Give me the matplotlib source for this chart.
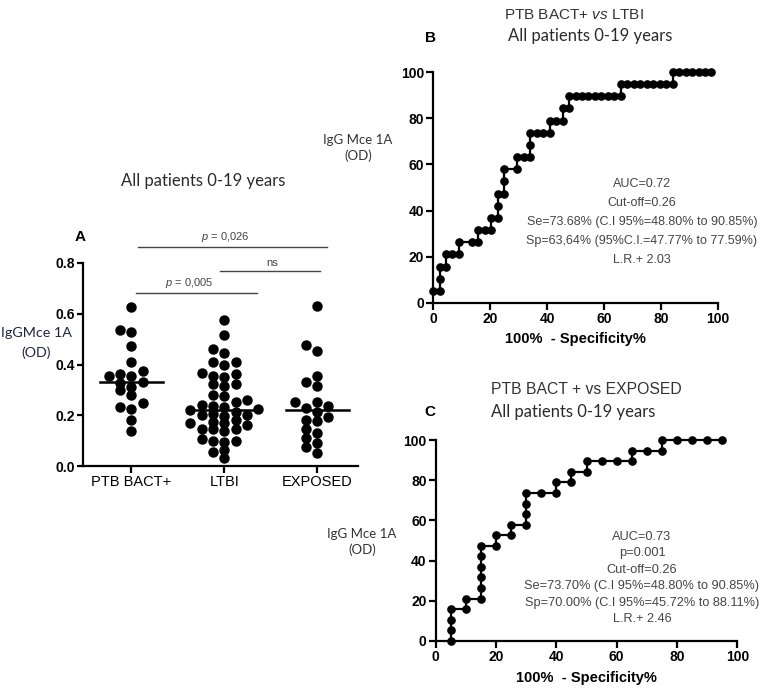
import numpy as np
import matplotlib
matplotlib.use('Agg')
import matplotlib.pyplot as plt

plt.rcParams['font.family'] = ['Liberation Sans', 'DejaVu Sans']
plt.rcParams['mathtext.fontset'] = 'custom'
plt.rcParams['mathtext.rm'] = 'Liberation Sans'
plt.rcParams['mathtext.it'] = 'Liberation Sans:italic'

# ---------------- data ----------------
groups = ['PTB BACT+', 'LTBI', 'EXPOSED']
ptb_od = [0.628, 0.530, 0.534, 0.474, 0.409, 0.376, 0.363, 0.355, 0.353, 0.330,
          0.329, 0.313, 0.300, 0.280, 0.247, 0.232, 0.225, 0.182, 0.136]
ltbi_od = [0.574, 0.516, 0.462, 0.445, 0.409, 0.408, 0.399, 0.366, 0.362, 0.355,
           0.351, 0.324, 0.322, 0.316, 0.278, 0.276, 0.260, 0.254, 0.241, 0.238,
           0.234, 0.224, 0.221, 0.214, 0.204, 0.201, 0.200, 0.197, 0.182, 0.175,
           0.168, 0.168, 0.162, 0.145, 0.145, 0.145, 0.138, 0.105, 0.100, 0.100,
           0.093, 0.063, 0.057, 0.030]
exposed_od = [0.632, 0.476, 0.455, 0.353, 0.330, 0.317, 0.254, 0.254, 0.238, 0.230,
              0.214, 0.195, 0.182, 0.179, 0.145, 0.132, 0.112, 0.092, 0.074, 0.050]
yticks_a = [0.0, 0.2, 0.4, 0.6, 0.8]
sig_labels = ['$\\it{p}$ = 0,026', 'ns', '$\\it{p}$ = 0,005']

roc_b_fpr = [0, 2.3, 2.3, 2.3, 4.5, 4.5, 6.8, 9.1, 9.1, 13.6, 15.9, 15.9, 18.2, 20.5, 20.5,
             22.7, 22.7, 22.7, 25.0, 25.0, 25.0, 29.5, 29.5, 31.8, 34.1, 34.1, 34.1, 36.4,
             38.6, 40.9, 40.9, 43.2, 45.5, 45.5, 47.7, 47.7, 50.0, 52.3, 54.5, 56.8, 59.1,
             61.4, 63.6, 65.9, 65.9, 68.2, 70.5, 72.7, 75.0, 77.3, 79.5, 81.8, 84.1, 84.1,
             86.4, 88.6, 90.9, 93.2, 95.5, 97.7]
roc_b_tpr = [5.3, 5.3, 10.5, 15.8, 15.8, 21.1, 21.1, 21.1, 26.3, 26.3, 26.3, 31.6, 31.6, 31.6, 36.8,
             36.8, 42.1, 47.4, 47.4, 52.6, 57.9, 57.9, 63.2, 63.2, 63.2, 68.4, 73.7, 73.7,
             73.7, 73.7, 78.9, 78.9, 78.9, 84.2, 84.2, 89.5, 89.5, 89.5, 89.5, 89.5, 89.5,
             89.5, 89.5, 89.5, 94.7, 94.7, 94.7, 94.7, 94.7, 94.7, 94.7, 94.7, 94.7, 100,
             100, 100, 100, 100, 100, 100]
roc_c_fpr = [5, 5, 5, 5, 10, 10, 15, 15, 15, 15, 15, 15, 20, 20, 25, 25, 30, 30, 30, 30,
             35, 40, 40, 45, 45, 50, 50, 55, 60, 65, 65, 70, 75, 75, 80, 85, 90, 95]
roc_c_tpr = [0, 5.3, 10.5, 15.8, 15.8, 21.1, 21.1, 26.3, 31.6, 36.8, 42.1, 47.4, 47.4, 52.6,
             52.6, 57.9, 57.9, 63.2, 68.4, 73.7, 73.7, 73.7, 78.9, 78.9, 84.2, 84.2, 89.5,
             89.5, 89.5, 89.5, 94.7, 94.7, 94.7, 100, 100, 100, 100, 100]
roc_ticks = [0, 20, 40, 60, 80, 100]

stats_b = ['AUC=0.72', 'Cut-off=0.26', 'Se=73.68% (C.I 95%=48.80% to 90.85%)',
           'Sp=63,64% (95%C.I.=47.77% to 77.59%)', 'L.R.+ 2.03']
stats_c = ['AUC=0.73', 'p=0.001', 'Cut-off=0.26', 'Se=73.70% (C.I 95%=48.80% to 90.85%)',
           'Sp=70.00% (C.I 95%=45.72% to 88.11%)', 'L.R.+ 2.46']

# ---------------- figure ----------------
W, H = 767, 691
fig = plt.figure(figsize=(W / 100, H / 100), dpi=100)

def fx(px):
    return px / W

def fy(py):
    return 1 - py / H

def axes_px(x0, y_top, x1, y_bot):
    return fig.add_axes([fx(x0), fy(y_bot), fx(x1) - fx(x0), fy(y_top) - fy(y_bot)])

def style_axes(ax, lw=1.6):
    for s in ['top', 'right']:
        ax.spines[s].set_visible(False)
    for s in ['left', 'bottom']:
        ax.spines[s].set_linewidth(lw)
    ax.tick_params(direction='out', length=4, width=lw, labelsize=10, pad=1.5)
    for lab in ax.get_xticklabels() + ax.get_yticklabels():
        lab.set_fontweight('bold')

calibri = ['Lato', 'DejaVu Sans']

# ---------------- panel A ----------------
axA = axes_px(83, 263, 358, 466)
axA.set_xlim(-0.52, 2.44)
axA.set_ylim(0, 0.8)
px_per_y = 203 / 0.8
px_per_x = 93.0
slot = 11.3
diam = 7.0

def swarm(values):
    vals = np.asarray(values)
    order = np.argsort(vals)
    placed = []
    res = np.zeros(len(vals))
    for i in order:
        y = vals[i] * px_per_y
        for k in [0, -1, 1, -2, 2, -3, 3, -4, 4, -5, 5]:
            x = k * slot
            if all((x - a) ** 2 + (y - b) ** 2 >= diam ** 2 for a, b in placed):
                break
        placed.append((x, y))
        res[i] = x / px_per_x
    return res

for gi, vals in enumerate([ptb_od, ltbi_od, exposed_od]):
    offs = swarm(vals)
    axA.plot(gi + offs, vals, 'o', color='black', ms=6.5, mec='black', clip_on=False, zorder=3)
    med = np.median(vals)
    axA.plot([gi - 0.34, gi + 0.34], [med, med], color='black', lw=1.8, zorder=4)

axA.set_xticks(range(len(groups)))
axA.set_xticklabels(groups)
axA.set_yticks(yticks_a)
axA.set_yticklabels([f'{t:.1f}' for t in yticks_a])
style_axes(axA)
for lab in axA.get_xticklabels():
    lab.set_fontweight('normal')
    lab.set_fontsize(10.5)
axA.tick_params(axis='x', length=5)

# significance bars
sig_bars = [(0.075, 2.11, 0.863), (0.957, 2.03, 0.770), (0.054, 1.355, 0.682)]
for (x0, x1, yy), lab in zip(sig_bars, sig_labels):
    axA.plot([x0, x1], [yy, yy], color='#444444', lw=1.0, clip_on=False)
    axA.text((x0 + x1) / 2 + (0.02 if lab == 'ns' else -0.08), yy + 0.012, lab,
             ha='center', va='bottom', fontsize=8, color='#444444', clip_on=False)

fig.text(fx(80), fy(237), 'A', fontsize=11, fontweight='bold', ha='center', va='center')
fig.text(fx(203), fy(181), 'All patients 0-19 years', fontsize=12, family=calibri,
         color='#2a2a2a', ha='center', va='center')
fig.text(fx(36), fy(343), 'IgGMce 1A\n(OD)', fontsize=10.3, family=calibri, color='#1c2340',
         ha='center', va='center', linespacing=1.75)

# ---------------- panel B ----------------
axB = axes_px(433, 72, 718, 303)
axB.set_xlim(0, 100)
axB.set_ylim(0, 100)
axB.plot(roc_b_fpr, roc_b_tpr, '-o', color='black', lw=1.6, ms=5.2, clip_on=False, zorder=3)
axB.set_xticks(roc_ticks)
axB.set_yticks(roc_ticks)
style_axes(axB)
axB.tick_params(length=5)

fig.text(fx(574), fy(15), 'PTB BACT+ $\\it{vs}$ LTBI', fontsize=11, color='#333333',
         ha='center', va='center')
fig.text(fx(590), fy(36), 'All patients 0-19 years', fontsize=12, family=calibri,
         color='#2a2a2a', ha='center', va='center')
fig.text(fx(430), fy(38), 'B', fontsize=11, fontweight='bold', ha='center', va='center')
fig.text(fx(358), fy(148), 'IgG Mce 1A\n(OD)', fontsize=9.5, family=calibri, color='#333333',
         ha='center', va='center', linespacing=1.3)
fig.text(fx(575), fy(339), '100%  - Specificity%', fontsize=10.5, fontweight='bold',
         ha='center', va='center')
fig.text(fx(642), fy(222), '\n'.join(stats_b), fontsize=9, color='#444444',
         ha='center', va='center', linespacing=1.8)

# ---------------- panel C ----------------
axC = axes_px(435.7, 440, 737.3, 641)
axC.set_xlim(0, 100)
axC.set_ylim(0, 100)
axC.plot(roc_c_fpr, roc_c_tpr, '-o', color='black', lw=1.6, ms=5.2, clip_on=False, zorder=3)
axC.set_xticks(roc_ticks)
axC.set_yticks(roc_ticks)
style_axes(axC)
axC.tick_params(length=5)

fig.text(fx(586), fy(390), 'PTB BACT + vs EXPOSED', fontsize=11.3, color='#333333',
         ha='center', va='center')
fig.text(fx(573), fy(412), 'All patients 0-19 years', fontsize=12, family=calibri,
         color='#2a2a2a', ha='center', va='center')
fig.text(fx(430), fy(412), 'C', fontsize=11, fontweight='bold', ha='center', va='center')
fig.text(fx(362), fy(542), 'IgG Mce 1A\n(OD)', fontsize=9.5, family=calibri, color='#333333',
         ha='center', va='center', linespacing=1.3)
fig.text(fx(586), fy(678), '100%  - Specificity%', fontsize=10.5, fontweight='bold',
         ha='center', va='center')
fig.text(fx(642), fy(578), '\n'.join(stats_c), fontsize=9.2, color='#444444',
         ha='center', va='center', linespacing=1.5)

fig.savefig('out.png', dpi=100)
